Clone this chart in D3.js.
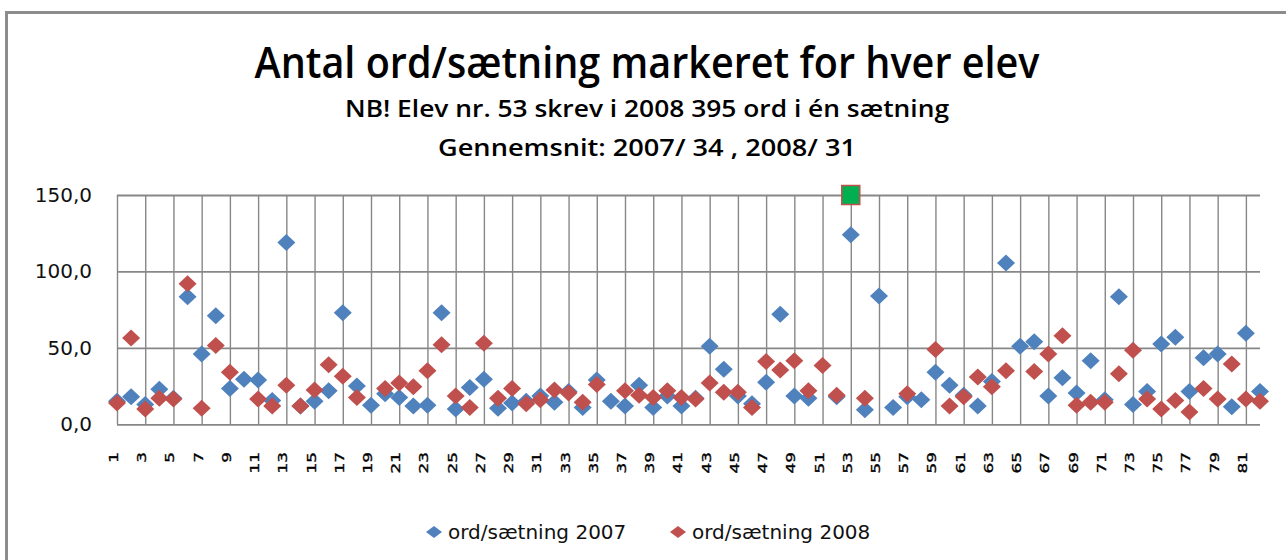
<!DOCTYPE html>
<html lang="da">
<head>
  <meta charset="UTF-8">
  <title>Antal ord/sætning markeret for hver elev</title>
  <script src="https://d3js.org/d3.v7.min.js"></script>
  <style>
    body { margin: 0; background: #fff; }
    svg { display: block; }
  </style>
</head>
<body>
  <div id="chart"></div>

  <script>
    // elev nr. 1..82
    const elever = d3.range(1, 83);

    // ord/sætning 2007 (null = ingen værdi)
    const ord2007 = [
      15, 18, 13, 23, 17, 83.5, 46, 71, 23.5, 29.5,
      29, 15.5, 119, 12, 15, 22, 73, 25, 12.5, 20,
      17.5, 12, 12.5, 73, 10, 24, 29.5, 10.5, 14, 15,
      18.5, 14.5, 21.5, 11, 29, 15, 12, 25.5, 11, 18.5,
      12, 17, 51, 36, 18.5, 13.5, 27.5, 72, 18.5, 17,
      null, 18, 124, 9.5, 84, 11, 18, 16, 34, 25.5,
      19, 12, 28, 105.5, 51, 54, 18.5, 30.5, 20.5, 41.5,
      16, 83.5, 13, 21.5, 52.5, 57, 21.5, 43.5, 46, 11.5,
      59.5, 21.5
    ];

    // ord/sætning 2008 (elev 53 = 395, over aksens max)
    const ord2008 = [
      14, 56.5, 10, 17, 16.5, 92, 10.5, 51.5, 34, null,
      16.5, 12, 25.5, 12, 22.5, 39, 31.5, 17.5, null, 23.5,
      27, 24.5, 35, 52, 18.5, 11, 53, 17, 23.5, 13.5,
      16, 22.5, 20.5, 14.5, 26, null, 22, 19, 17.5, 22,
      17.5, 16.5, 27, 21, 21, 11, 41, 35.5, 41.5, 22,
      38.5, 19, 395, 17, null, null, 20, null, 49, 12,
      18, 31, 24.5, 35, null, 34.5, 46, 58, 12.5, 14.5,
      14.5, 33, 48.5, 16.5, 10, 15.5, 8, 23.5, 16.5, 39.5,
      16.5, 15
    ];

    const xTicks = d3.range(1, 82, 2);
    const yTicks = [0, 50, 100, 150];

    const titel = "Antal ord/sætning markeret for hver elev";
    const undertitel1 = "NB! Elev nr. 53 skrev i 2008 395 ord i én sætning";
    const undertitel2 = "Gennemsnit: 2007/ 34 , 2008/ 31";
    const serier = [
      { navn: "ord/sætning 2007", values: ord2007, color: "#4F81BD" },
      { navn: "ord/sætning 2008", values: ord2008, color: "#C0504D" }
    ];

    const W = 1286, H = 560;
    const plot = { left: 117, right: 1260, top: 195, bottom: 424.3 };
    const grid = "#878787";

    const svg = d3.select("#chart").append("svg")
      .attr("width", W)
      .attr("height", H);

    svg.append("rect")
      .attr("x", 6.5).attr("y", 12.5)
      .attr("width", W + 20).attr("height", H + 20)
      .attr("fill", "#fff")
      .attr("stroke", "#8c8c8c")
      .attr("stroke-width", 3);

    const x = d3.scaleLinear().domain([1, 82]).range([plot.left, plot.right]);
    const y = d3.scaleLinear().domain([0, 150]).range([plot.bottom, plot.top]).clamp(true);
    const fmt = v => d3.format(".1f")(v).replace(".", ",");

    // titles
    const titles = [
      { t: titel, y: 78, size: 43, len: 785, w: 600 },
      { t: undertitel1, y: 117, size: 24, len: 604, w: 600 },
      { t: undertitel2, y: 156, size: 24, len: 418, w: 600 }
    ];
    svg.selectAll(".title").data(titles).join("text")
      .attr("x", 647)
      .attr("y", d => d.y)
      .attr("text-anchor", "middle")
      .attr("font-family", "Open Sans, Liberation Sans, Arial, sans-serif")
      .attr("font-weight", d => d.w)
      .attr("font-size", d => d.size)
      .attr("textLength", d => d.len)
      .attr("lengthAdjust", "spacingAndGlyphs")
      .attr("fill", "#000")
      .text(d => d.t);

    // vertical gridlines
    svg.append("g")
      .attr("transform", `translate(0,${plot.bottom})`)
      .call(d3.axisBottom(x).tickValues(xTicks).tickSize(-(plot.bottom - plot.top)).tickFormat(""))
      .call(g => g.select(".domain").remove())
      .call(g => g.selectAll("line").attr("stroke", grid).attr("stroke-width", 1.4));

    // horizontal gridlines + y labels
    svg.append("g")
      .attr("transform", `translate(${plot.left},0)`)
      .call(d3.axisLeft(y).tickValues(yTicks).tickSize(-(plot.right - plot.left)).tickFormat(fmt).tickPadding(25))
      .call(g => g.select(".domain").remove())
      .call(g => g.selectAll("line").attr("stroke", grid).attr("stroke-width", 1.8))
      .call(g => g.selectAll("text")
        .attr("font-family", "DejaVu Sans, Verdana, sans-serif")
        .attr("font-size", 20)
        .attr("fill", "#111"));

    // x labels, rotated
    svg.append("g").selectAll("text").data(xTicks).join("text")
      .attr("transform", d => `translate(${x(d) + 1},452) rotate(-90) scale(1.3,1)`)
      .attr("text-anchor", "end")
      .attr("font-family", "DejaVu Sans, Verdana, sans-serif")
      .attr("font-size", 13)
      .attr("fill", "#000")
      .attr("stroke", "#000")
      .attr("stroke-width", 0.35)
      .text(d => d);

    const diamond = (w, h) => `M0,${-h}L${w},0L0,${h}L${-w},0Z`;

    serier.forEach(s => {
      const pts = elever.map((e, i) => ({ e, v: s.values[i] })).filter(d => d.v != null);
      svg.append("g").selectAll("path").data(pts.filter(d => d.v <= 150)).join("path")
        .attr("transform", d => `translate(${x(d.e)},${y(d.v)})`)
        .attr("d", diamond(9, 8.5))
        .attr("fill", s.color);
      // value off the axis: green square at the top
      svg.append("g").selectAll("rect").data(pts.filter(d => d.v > 150)).join("rect")
        .attr("x", d => x(d.e) - 9)
        .attr("y", d => y(d.v) - 9.5)
        .attr("width", 18)
        .attr("height", 19)
        .attr("fill", "#00B050")
        .attr("stroke", s.color)
        .attr("stroke-width", 1.5);
    });

    // legend
    const legendX = [434, 678];
    const lg = svg.append("g").selectAll("g").data(serier).join("g")
      .attr("transform", (d, i) => `translate(${legendX[i]},532)`);
    lg.append("path").attr("d", diamond(8, 6)).attr("fill", d => d.color);
    lg.append("text")
      .attr("x", 14).attr("y", 7)
      .attr("font-family", "DejaVu Sans, Verdana, sans-serif")
      .attr("font-size", 20)
      .attr("fill", "#111")
      .text(d => d.navn);
  </script>
</body>
</html>
